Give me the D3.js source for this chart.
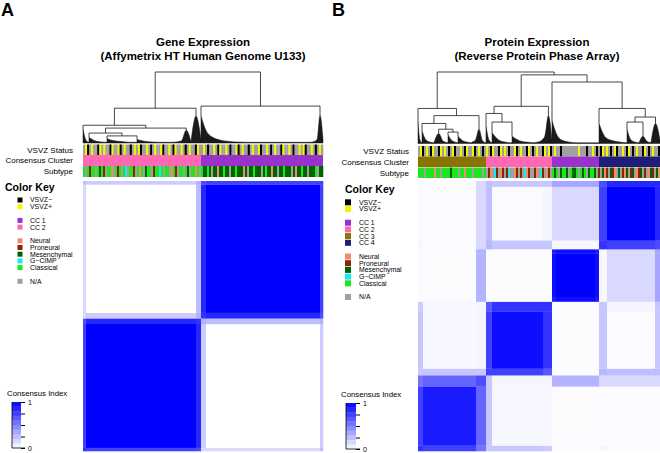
<!DOCTYPE html>
<html lang="en">
<head>
<meta charset="UTF-8">
<title>Consensus clustering</title>
<script src="https://cdn.jsdelivr.net/npm/d3@7"></script>
<style>
  body { margin: 0; background: #fff; }
  svg { display: block; font-family: "Liberation Sans", Arial, Helvetica, sans-serif; }
</style>
</head>
<body>
<div id="chart"></div>
<script>
// ---------- data ----------
var titleA = ["Gene Expression", "(Affymetrix HT Human Genome U133)"];
var titleB = ["Protein Expression", "(Reverse Protein Phase Array)"];
var trackNames = ["VSVZ Status", "Consensus Cluster", "Subtype"];

var vsvzLabels = ["VSVZ\u2212", "VSVZ+"];
var subtypeLabels = ["Neural", "Proneural", "Mesenchymal", "G\u2212CIMP", "Classical"];
var naLabel = "N/A";
var ccLabelsA = ["CC 1", "CC 2"];
var ccLabelsB = ["CC 1", "CC 2", "CC 3", "CC 4"];
var keyBreaks = [0, 0.1, 0.2, 0.3, 0.4, 0.5, 0.6, 0.7, 0.8, 0.9, 1];
var keyTicks = [0, 0.25, 0.5, 0.75, 1];

// panel A : clusters in column order, sizes, sub-segments (edge / core / edge)
var clusterOrderA = ["CC 2", "CC 1"];
var clusterSizesA = [118, 122];
var segmentsA = [3, 110, 5, 5, 114, 3];
var consensusA = [
  [0.80, 0.75, 0.70, 0.15, 0.15, 0.25],
  [0.75, 1.00, 0.85, 0.20, 0.00, 0.20],
  [0.70, 0.85, 0.80, 0.30, 0.25, 0.30],
  [0.15, 0.20, 0.30, 0.80, 0.85, 0.70],
  [0.15, 0.00, 0.25, 0.85, 1.00, 0.75],
  [0.25, 0.20, 0.30, 0.70, 0.75, 0.75]
];
// n = VSVZ-, p = VSVZ+, x = N/A
var vsvzA = "xpnxpxxnpxpxxnpxxpnxpxxnxpxpnxxpxnxpxxpnxxpxnpxxpxnxpxxnpxx" +
            "pxnxxpxnpxxpxnxxpnxpxxnxpxxpnxxpxnxpxxnpxxpxnxxpxpnxxpxnxpx";
// N neural, P proneural, M mesenchymal, G G-CIMP, C classical, x N/A
var subtypeA = "CxCPCCxCMCPxCCNxCPCxCGxCCPxCNCxMCCxPCCGCxCCxNCPxCCxCMxCCNCxC" +
               "MMCMxMMNMMCMMxMMCMMMNMxMMCMMMxMCMMNMMxMMCMMMxMNMMCMMxMMMCxMM";
// dendrogram: {h, c:[..]} merge node, {n, p:[..]} dense clump of n leaves with height profile
var treeA = {h: 1, c: [
  {h: 0.49, c: [
    {h: 0.25, c: [
      {n: 6, p: [0.2, 0.04, 0.01]},
      {h: 0.21, c: [
        {h: 0.14, c: [
          {n: 18, p: [0.08, 0.03, 0.015, 0.01]},
          {h: 0.1, c: [
            {n: 30, p: [0.06, 0.03, 0.02, 0.01, 0.01]},
            {n: 30, p: [0.05, 0.025, 0.015, 0.01, 0.01]}
          ]}
        ]},
        {n: 24, p: [0.01, 0.01, 0.015, 0.03, 0.18, 0.02]}
      ]}
    ]},
    {n: 10, p: [0.02, 0.38, 0.05]}
  ]},
  {h: 0.52, c: [
    {n: 110, p: [0.38, 0.17, 0.09, 0.055, 0.035, 0.025, 0.018, 0.014, 0.012, 0.01, 0.01,
                 0.01, 0.01, 0.01, 0.01, 0.01, 0.01, 0.01, 0.01, 0.01, 0.01, 0.01]},
    {n: 12, p: [0.01, 0.02, 0.05, 0.39, 0.05]}
  ]}
]};

// panel B
var clusterOrderB = ["CC 3", "CC 2", "CC 1", "CC 4"];
var clusterSizesB = [68, 66, 47, 61];
var segmentsB = [5, 53, 10, 6, 51, 9, 4, 39, 4, 8, 48, 5];
var consensusB = [
  [0.80, 0.75, 0.55, 0.22, 0.22, 0.20, 0.02, 0.02, 0.02, 0.04, 0.02, 0.02],
  [0.75, 0.90, 0.60, 0.22, 0.03, 0.03, 0.02, 0.01, 0.02, 0.02, 0.02, 0.02],
  [0.55, 0.60, 0.70, 0.22, 0.04, 0.04, 0.30, 0.30, 0.30, 0.15, 0.15, 0.15],
  [0.22, 0.22, 0.22, 0.75, 0.75, 0.65, 0.02, 0.01, 0.02, 0.28, 0.25, 0.25],
  [0.22, 0.03, 0.04, 0.75, 0.95, 0.80, 0.02, 0.01, 0.02, 0.22, 0.02, 0.22],
  [0.20, 0.03, 0.04, 0.65, 0.80, 0.80, 0.02, 0.01, 0.02, 0.22, 0.04, 0.22],
  [0.02, 0.02, 0.30, 0.02, 0.02, 0.02, 0.90, 0.95, 0.90, 0.03, 0.15, 0.35],
  [0.02, 0.01, 0.30, 0.01, 0.01, 0.01, 0.95, 1.00, 0.95, 0.03, 0.15, 0.35],
  [0.02, 0.02, 0.30, 0.02, 0.02, 0.02, 0.90, 0.95, 0.90, 0.03, 0.15, 0.35],
  [0.04, 0.02, 0.15, 0.28, 0.22, 0.22, 0.03, 0.03, 0.03, 0.80, 0.75, 0.70],
  [0.02, 0.02, 0.15, 0.25, 0.02, 0.04, 0.15, 0.15, 0.15, 0.75, 1.00, 0.85],
  [0.02, 0.02, 0.15, 0.25, 0.22, 0.22, 0.35, 0.35, 0.35, 0.70, 0.85, 0.85]
];
var vsvzB = "xpnxpxnpxxnpxpxnxpnxxpxnpxxpnxpxnx" +
            "pxnpxxnpxpxnxxpnxpxxnpxnxpxxnpxpn" +
            "xpxxnxxxxxxxxpxxxnxxpxn" +
            "xnpxpxnxpnxxpxnpxnxpxxnpxnxpxxn";
var subtypeB = "CCCxCCCCNCCxCCCCMCCCxCCNCCCxCCCCxC" +
               "xPNxGPxNPxPGxxNPxPxGNPxxPNxGPxNPx" +
               "CMCxMCCMxCMMCxCMCxMCCMx" +
               "PxMNPxMPNxMxPNMxPMxNPMxPxNMPxMN";
var treeB = {h: 1, c: [
  {h: 0.49, c: [
    {n: 4, p: [0.3, 0.05, 0.01]},
    {h: 0.39, c: [
      {h: 0.28, c: [
        {n: 12, p: [0.18, 0.05, 0.02, 0.01]},
        {h: 0.2, c: [
          {n: 14, p: [0.01, 0.14, 0.03, 0.01]},
          {h: 0.16, c: [
            {n: 10, p: [0.12, 0.03, 0.01]},
            {n: 14, p: [0.1, 0.04, 0.02, 0.01]}
          ]}
        ]}
      ]},
      {n: 14, p: [0.02, 0.05, 0.2, 0.04, 0.01]}
    ]}
  ]},
  {h: 0.96, c: [
    {h: 0.52, c: [
      {h: 0.42, c: [
        {n: 6, p: [0.25, 0.05, 0.01]},
        {h: 0.3, c: [
          {n: 20, p: [0.15, 0.05, 0.02, 0.01]},
          {n: 22, p: [0.1, 0.04, 0.02, 0.01]}
        ]}
      ]},
      {n: 18, p: [0.01, 0.02, 0.04, 0.1, 0.39, 0.05]}
    ]},
    {h: 0.86, c: [
      {n: 47, p: [0.32, 0.08, 0.03, 0.015, 0.01, 0.01, 0.01, 0.01]},
      {h: 0.49, c: [
        {n: 28, p: [0.28, 0.08, 0.04, 0.02, 0.01]},
        {h: 0.37, c: [
          {h: 0.3, c: [
            {n: 12, p: [0.2, 0.05, 0.02, 0.01]},
            {n: 12, p: [0.01, 0.1, 0.03, 0.01]}
          ]},
          {n: 9, p: [0.02, 0.28, 0.05]}
        ]}
      ]}
    ]}
  ]}
]};

// ---------- styles ----------
var vsvzColor = {n: "#000000", p: "#f5f500", x: "#a0a0a0"};
var subtypeColor = {N: "#f08c6e", P: "#8b2500", M: "#006400", G: "#1ee6f0", C: "#1ee61e", x: "#a0a0a0"};
var ccColor = {"CC 1": "#9932cc", "CC 2": "#ff69b4", "CC 3": "#8b7300", "CC 4": "#1e1e78"};
var heat = d3.scaleLinear().domain([0, 1]).range(["#ffffff", "#0000ff"]);

var svg = d3.select("#chart").append("svg")
  .attr("width", 660)
  .attr("height", 453);

function drawPanel(p) {
  var g = svg.append("g");
  var N = d3.sum(p.sizes);
  var x = d3.scaleLinear().domain([0, N]).range([p.x0, p.x1]);
  var yH = d3.scaleLinear().domain([0, N]).range([p.hmBottom, p.hmTop]);
  var yD = d3.scaleLinear().domain([0, 1]).range([p.dBase, p.dTop]);

  // panel letter + title
  g.append("text").attr("x", p.letterX).attr("y", 16)
    .style("font-size", "18px").style("font-weight", "bold").text(p.letter);
  g.selectAll("text.title").data(p.title).join("text")
    .attr("class", "title")
    .attr("x", p.titleX).attr("y", function (d, i) { return 46 + i * 13.5; })
    .attr("text-anchor", "middle")
    .style("font-size", "11.5px").style("font-weight", "bold")
    .text(function (d) { return d; });

  // consensus heatmap (rows run bottom -> top)
  var starts = [0];
  p.segments.forEach(function (s, i) { starts.push(starts[i] + s); });
  var cells = [];
  p.consensus.forEach(function (row, i) {
    row.forEach(function (v, j) { cells.push({i: i, j: j, v: v}); });
  });
  g.append("g").selectAll("rect").data(cells).join("rect")
    .attr("x", function (d) { return x(starts[d.j]); })
    .attr("width", function (d) { return x(starts[d.j + 1]) - x(starts[d.j]) + 0.3; })
    .attr("y", function (d) { return yH(starts[d.i + 1]); })
    .attr("height", function (d) { return yH(starts[d.i]) - yH(starts[d.i + 1]) + 0.3; })
    .attr("fill", function (d) { return heat(d.v); });

  // annotation tracks
  var tracks = [
    {codes: p.vsvz.split(""), color: function (c) { return vsvzColor[c]; }},
    null,
    {codes: p.subtype.split(""), color: function (c) { return subtypeColor[c]; }}
  ];
  tracks.forEach(function (t, k) {
    var band = p.bands[k];
    if (!t) return;
    var xs = d3.scaleLinear().domain([0, t.codes.length]).range([p.x0, p.x1]);
    g.append("g").selectAll("rect").data(t.codes).join("rect")
      .attr("x", function (d, i) { return xs(i); })
      .attr("width", function (d, i) { return xs(i + 1) - xs(i) + 0.3; })
      .attr("y", band[0]).attr("height", band[1] - band[0])
      .attr("fill", t.color);
  });
  var cstart = [0];
  p.sizes.forEach(function (s, i) { cstart.push(cstart[i] + s); });
  g.append("g").selectAll("rect").data(p.order).join("rect")
    .attr("x", function (d, i) { return x(cstart[i]); })
    .attr("width", function (d, i) { return x(cstart[i + 1]) - x(cstart[i]); })
    .attr("y", p.bands[1][0]).attr("height", p.bands[1][1] - p.bands[1][0])
    .attr("fill", function (d) { return ccColor[d]; });
  g.selectAll("text.track").data(trackNames).join("text")
    .attr("class", "track")
    .attr("x", p.labelX)
    .attr("y", function (d, i) { return (p.bands[i][0] + p.bands[i][1]) / 2; })
    .attr("dy", "0.35em").attr("text-anchor", "end")
    .style("font-size", "8px").text(function (d) { return d; });

  // dendrogram
  var root = d3.hierarchy(p.tree, function (d) { return d.c; });
  var cursor = 0;
  root.leaves().forEach(function (lf) {
    var d = lf.data;
    lf.start = cursor; cursor += d.n;
    var k = d3.maxIndex(d.p);
    lf.ax = lf.start + k * d.n / (d.p.length - 1);
    lf.ah = d.p[k];
  });
  root.eachAfter(function (nd) {
    if (nd.children) {
      nd.ax = d3.mean(nd.children, function (c) { return c.ax; });
      nd.ah = nd.data.h;
    }
  });
  var dg = g.append("g");
  var area = d3.area()
    .x(function (v, i, arr) { return x(arr.s + i * arr.n / (arr.length - 1)); })
    .y0(yD(0))
    .y1(function (v) { return yD(v); })
    .curve(d3.curveMonotoneX);
  root.leaves().forEach(function (lf) {
    var arr = lf.data.p.slice();
    arr.s = lf.start; arr.n = lf.data.n;
    dg.append("path").attr("d", area(arr)).attr("fill", "#1a1a1a")
      .attr("stroke", "#1a1a1a").attr("stroke-width", 0.5);
  });
  root.descendants().filter(function (nd) { return nd.children; }).forEach(function (nd) {
    var xsC = nd.children.map(function (c) { return x(c.ax); });
    var path = "M" + d3.min(xsC) + "," + yD(nd.ah) + "H" + d3.max(xsC);
    nd.children.forEach(function (c) {
      path += "M" + x(c.ax) + "," + yD(nd.ah) + "V" + yD(c.ah);
    });
    dg.append("path").attr("d", path).attr("fill", "none")
      .attr("stroke", "#1a1a1a").attr("stroke-width", 0.8);
  });

  // colour key
  var lg = p.legend;
  g.append("text").attr("x", lg.titleX).attr("y", lg.titleY)
    .style("font-size", "10.5px").style("font-weight", "bold").text("Color Key");
  var items = [];
  var groups = [
    vsvzLabels.map(function (l, i) { return {label: l, color: vsvzColor["np"[i]]}; }),
    p.ccLabels.map(function (l) { return {label: l, color: ccColor[l]}; }),
    subtypeLabels.map(function (l, i) { return {label: l, color: subtypeColor["NPMGC"[i]]}; }),
    [{label: naLabel, color: vsvzColor.x}]
  ];
  var yy = lg.startY;
  groups.forEach(function (grp, gi) {
    if (gi > 0) yy += lg.gap;
    grp.forEach(function (it) { items.push({label: it.label, color: it.color, y: yy}); yy += lg.step; });
  });
  var li = g.append("g").selectAll("g").data(items).join("g")
    .attr("transform", function (d) { return "translate(0," + d.y + ")"; });
  li.append("rect").attr("x", lg.boxX).attr("y", -lg.box / 2)
    .attr("width", lg.box).attr("height", lg.box)
    .attr("fill", function (d) { return d.color; });
  li.append("text").attr("x", lg.textX).attr("dy", "0.35em")
    .style("font-size", "6.9px").text(function (d) { return d.label; });

  // consensus index key
  var ky = d3.scaleLinear().domain([0, 1]).range([lg.keyBottom, lg.keyTop]);
  g.append("text").attr("x", lg.keyLabelX).attr("y", lg.keyTop - 6)
    .style("font-size", "7.8px").text("Consensus Index");
  var kg = g.append("g");
  kg.selectAll("rect").data(keyBreaks.slice(1)).join("rect")
    .attr("x", lg.keyX).attr("width", lg.keyW)
    .attr("y", function (d) { return ky(d); })
    .attr("height", function (d, i) { return ky(keyBreaks[i]) - ky(d) + 0.2; })
    .attr("fill", function (d, i) { return heat((d + keyBreaks[i]) / 2); });
  var ax = kg.append("g")
    .attr("transform", "translate(" + (lg.keyX + lg.keyW) + ",0)")
    .call(d3.axisRight(ky).tickValues(keyTicks).tickSize(4)
      .tickFormat(function (d) { return d === 0 || d === 1 ? d : ""; }));
  ax.select(".domain").remove();
  ax.selectAll("text").style("font-size", "7px").style("font-family", "inherit").attr("x", 7);
  kg.append("path")
    .attr("d", "M" + lg.keyX + "," + lg.keyTop + "V" + lg.keyBottom + "H" + (lg.keyX + lg.keyW + 4))
    .attr("fill", "none").attr("stroke", "#000").attr("stroke-width", 0.8);
}

drawPanel({
  letter: "A", letterX: 1, title: titleA, titleX: 203,
  sizes: clusterSizesA, order: clusterOrderA, segments: segmentsA, consensus: consensusA,
  vsvz: vsvzA, subtype: subtypeA, tree: treeA, ccLabels: ccLabelsA,
  x0: 83, x1: 323, hmTop: 181, hmBottom: 451, dBase: 143, dTop: 72,
  bands: [[144.5, 155], [155, 166], [166, 177]], labelX: 73,
  legend: {titleX: 5, titleY: 191, startY: 200, step: 6.7, gap: 7, box: 5, boxX: 17.5, textX: 30,
           keyX: 12, keyW: 9, keyTop: 402, keyBottom: 448, keyLabelX: 7}
});
drawPanel({
  letter: "B", letterX: 332, title: titleB, titleX: 537,
  sizes: clusterSizesB, order: clusterOrderB, segments: segmentsB, consensus: consensusB,
  vsvz: vsvzB, subtype: subtypeB, tree: treeB, ccLabels: ccLabelsB,
  x0: 418, x1: 660, hmTop: 181, hmBottom: 451, dBase: 143.5, dTop: 72,
  bands: [[146, 156.5], [156.5, 167], [167.5, 178]], labelX: 409,
  legend: {titleX: 345, titleY: 193, startY: 202.3, step: 6.7, gap: 7, box: 6, boxX: 345, textX: 359,
           keyX: 346, keyW: 10, keyTop: 403, keyBottom: 449, keyLabelX: 341}
});
</script>
</body>
</html>
